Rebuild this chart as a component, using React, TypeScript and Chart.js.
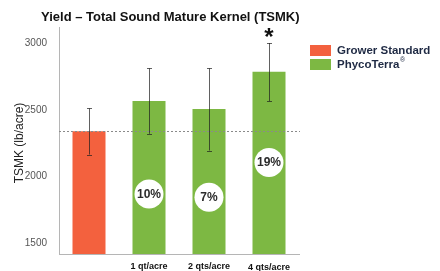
import React, { useEffect, useRef } from "react";
import { Chart, registerables } from "chart.js";
Chart.register(...registerables);

const categories = ["", "1 qt/acre", "2 qts/acre", "4 qts/acre"];
const values = [2340, 2565, 2505, 2785];
const errLow = [2165, 2320, 2195, 2565];
const errHigh = [2510, 2810, 2810, 3000];
const pctLabels = ["", "10%", "7%", "19%"];
const pctAt: (number | null)[] = [null, 1870, 1845, 2105];
const markers = ["", "", "", "*"];
const yTicks = [1500, 2000, 2500, 3000];
const seriesNames = ["Grower Standard", "PhycoTerra"];
const titleText = "Yield – Total Sound Mature Kernel (TSMK)";
const yTitle = "TSMK (lb/acre)";

const ORANGE = "#F3613E";
const GREEN = "#7DB843";
const FONT = "'Liberation Sans', Arial, sans-serif";

const overlay = {
  id: "overlay",
  afterDatasetsDraw(chart: any) {
    const { ctx, chartArea } = chart;
    const xs = chart.scales.x;
    const ys = chart.scales.y;
    ctx.save();
    // reference dotted line at grower standard
    const yRef = ys.getPixelForValue(values[0]);
    ctx.strokeStyle = "#8a8a8a";
    ctx.lineWidth = 1;
    ctx.setLineDash([2, 2]);
    ctx.beginPath();
    ctx.moveTo(chartArea.left, Math.round(yRef) + 0.5);
    ctx.lineTo(chartArea.right + 1, Math.round(yRef) + 0.5);
    ctx.stroke();
    ctx.setLineDash([]);
    // error bars
    ctx.strokeStyle = "rgba(30,30,30,0.7)";
    for (let i = 0; i < values.length; i++) {
      const x = Math.round(xs.getPixelForValue(i)) + 0.5;
      const yh = ys.getPixelForValue(errHigh[i]);
      const yl = ys.getPixelForValue(errLow[i]);
      ctx.beginPath();
      ctx.moveTo(x, yh);
      ctx.lineTo(x, yl);
      ctx.moveTo(x - 2.5, Math.round(yh) + 0.5);
      ctx.lineTo(x + 2.5, Math.round(yh) + 0.5);
      ctx.moveTo(x - 2.5, Math.round(yl) + 0.5);
      ctx.lineTo(x + 2.5, Math.round(yl) + 0.5);
      ctx.stroke();
    }
    // percentage circles
    for (let i = 0; i < values.length; i++) {
      const v = pctAt[i];
      if (v == null) continue;
      const x = xs.getPixelForValue(i);
      const y = ys.getPixelForValue(v);
      ctx.fillStyle = "#ffffff";
      ctx.beginPath();
      ctx.arc(x, y, 14.5, 0, Math.PI * 2);
      ctx.fill();
      ctx.fillStyle = "#2b2b2b";
      ctx.font = `bold 12px ${FONT}`;
      ctx.textAlign = "center";
      ctx.textBaseline = "middle";
      ctx.fillText(pctLabels[i], x, y + 0.5);
    }
    // significance markers
    for (let i = 0; i < values.length; i++) {
      if (!markers[i]) continue;
      const x = xs.getPixelForValue(i);
      const y = ys.getPixelForValue(errHigh[i]);
      ctx.fillStyle = "#111";
      ctx.font = `bold 24px ${FONT}`;
      ctx.textAlign = "center";
      ctx.textBaseline = "alphabetic";
      ctx.fillText(markers[i], x, y + 2);
    }
    // x category labels
    ctx.fillStyle = "#111";
    ctx.font = `bold 9px ${FONT}`;
    ctx.textAlign = "center";
    ctx.textBaseline = "middle";
    for (let i = 0; i < categories.length; i++) {
      if (!categories[i]) continue;
      ctx.fillText(categories[i], xs.getPixelForValue(i), chartArea.bottom + 13 + (i === 3 ? 0.5 : 0));
    }
    // title
    ctx.fillStyle = "#111";
    ctx.font = `bold 13px ${FONT}`;
    ctx.textAlign = "left";
    ctx.textBaseline = "middle";
    ctx.fillText(titleText, 41, 17);
    // y title
    ctx.save();
    ctx.translate(20, 143);
    ctx.rotate(-Math.PI / 2);
    ctx.font = `12px ${FONT}`;
    ctx.textAlign = "center";
    ctx.textBaseline = "middle";
    ctx.fillStyle = "#222";
    ctx.fillText(yTitle, 0, 0);
    ctx.restore();
    // legend
    const colors = [ORANGE, GREEN];
    const lx = chartArea.right + 11;
    for (let k = 0; k < seriesNames.length; k++) {
      const cy = 50.5 + k * 14;
      ctx.fillStyle = colors[k];
      ctx.fillRect(lx, cy - 5.5, 21, 11);
      ctx.fillStyle = "#1f2a44";
      ctx.font = `bold 11.5px ${FONT}`;
      ctx.textAlign = "left";
      ctx.textBaseline = "middle";
      ctx.fillText(seriesNames[k], lx + 27, cy);
      if (k === 1) {
        const w = ctx.measureText(seriesNames[k]).width;
        ctx.font = `7px ${FONT}`;
        ctx.fillText("®", lx + 27 + w + 0.5, cy - 4);
      }
    }
    ctx.restore();
  },
};

export default function App() {
  const ref = useRef<HTMLCanvasElement>(null);
  useEffect(() => {
    if (!ref.current) return;
    const chart = new Chart(ref.current, {
      type: "bar",
      data: {
        labels: categories,
        datasets: [
          {
            data: values,
            backgroundColor: values.map((_, i) => (i === 0 ? ORANGE : GREEN)),
            categoryPercentage: 1,
            barPercentage: 0.55,
          },
        ],
      },
      options: {
        responsive: false,
        animation: false,
        layout: { padding: { left: 0, right: 141, top: 27, bottom: 0 } },
        plugins: { legend: { display: false }, tooltip: { enabled: false }, title: { display: false } },
        scales: {
          x: {
            grid: { display: false },
            border: { display: true, color: "#b5b5b5" },
            ticks: { display: false },
            afterFit: (s: any) => { s.height = 17; },
          },
          y: {
            min: 1420,
            max: 3120,
            grid: { display: false },
            border: { display: true, color: "#b5b5b5" },
            afterBuildTicks: (s: any) => { s.ticks = yTicks.map((v) => ({ value: v })); },
            ticks: {
              color: "#555",
              font: { family: FONT, size: 10 },
              padding: 4,
              callback: (v: any) => String(v),
            },
            afterFit: (s: any) => { s.width = 59; },
          },
        },
      },
      plugins: [overlay],
    });
    return () => chart.destroy();
  }, []);
  return (
    <div style={{ position: "fixed", left: 0, top: 0, width: 440, height: 271, background: "#fff" }}>
      <canvas ref={ref} width={440} height={271} style={{ width: 440, height: 271 }} />
    </div>
  );
}
